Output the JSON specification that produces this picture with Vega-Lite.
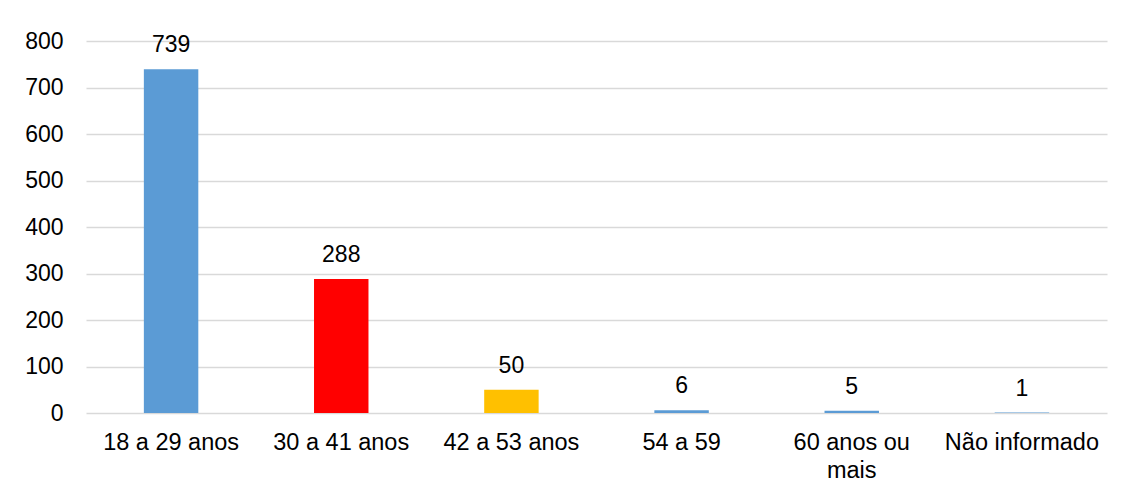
{
  "$schema": "https://vega.github.io/schema/vega-lite/v6.json",
  "autosize": "none",
  "width": 1021,
  "height": 372,
  "padding": {"left": 86, "top": 41, "right": 15, "bottom": 78},
  "background": "white",
  "data": {
    "values": [
      {"faixa": "18 a 29 anos", "valor": 739, "cor": "#5B9BD5"},
      {"faixa": "30 a 41 anos", "valor": 288, "cor": "#FF0000"},
      {"faixa": "42 a 53 anos", "valor": 50, "cor": "#FFC000"},
      {"faixa": "54 a 59", "valor": 6, "cor": "#5B9BD5"},
      {"faixa": "60 anos ou mais", "valor": 5, "cor": "#5B9BD5"},
      {"faixa": "Não informado", "valor": 1, "cor": "#5B9BD5"}
    ]
  },
  "encoding": {
    "x": {
      "field": "faixa",
      "type": "nominal",
      "sort": null,
      "scale": {"paddingInner": 0.68, "paddingOuter": 0.34},
      "axis": {
        "title": null,
        "labelAngle": 0,
        "domain": false,
        "ticks": false,
        "labelFont": "Liberation Sans",
        "labelFontSize": 23.5,
        "labelColor": "#000000",
        "labelPadding": 17,
        "labelLineHeight": 28,
        "labelExpr": "datum.label == '60 anos ou mais' ? ['60 anos ou', 'mais'] : datum.label"
      }
    },
    "y": {
      "field": "valor",
      "type": "quantitative",
      "scale": {"domain": [0, 800], "nice": false},
      "axis": {
        "title": null,
        "values": [0, 100, 200, 300, 400, 500, 600, 700, 800],
        "domain": false,
        "ticks": false,
        "grid": true,
        "gridColor": "#d9d9d9",
        "gridWidth": 1.5,
        "labelFont": "Liberation Sans",
        "labelFontSize": 23,
        "labelColor": "#000000",
        "labelPadding": 23
      }
    }
  },
  "layer": [
    {
      "mark": {"type": "bar"},
      "encoding": {
        "color": {"field": "cor", "type": "nominal", "scale": null, "legend": null}
      }
    },
    {
      "mark": {
        "type": "text",
        "baseline": "middle",
        "dy": -24,
        "font": "Liberation Sans",
        "fontSize": 23,
        "color": "#000000"
      },
      "encoding": {
        "text": {"field": "valor", "type": "quantitative"}
      }
    }
  ],
  "config": {
    "view": {"stroke": null}
  }
}
